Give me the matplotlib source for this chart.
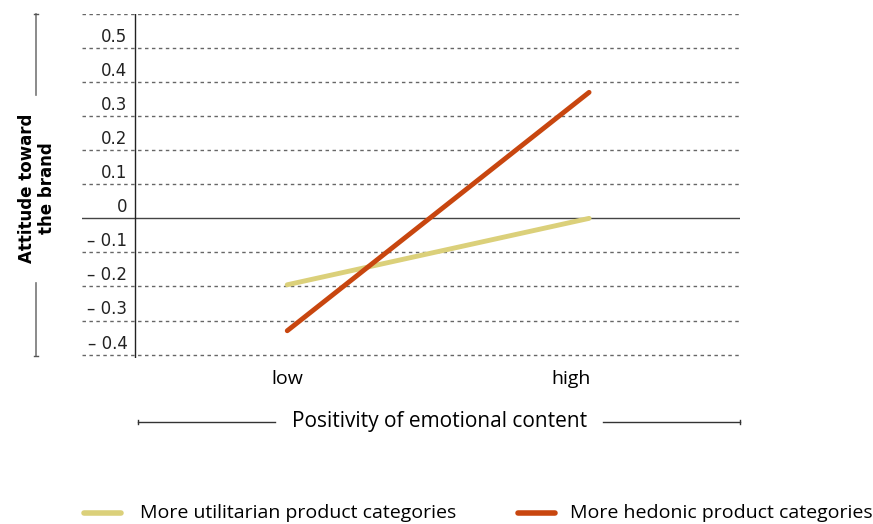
import matplotlib
matplotlib.use('Agg')
from matplotlib import pyplot as plt
from matplotlib.lines import Line2D

levels = ['low', 'high']
utilitarian = [-0.195, 0.0]
hedonic = [-0.33, 0.37]
yticks = [0.5, 0.4, 0.3, 0.2, 0.1, 0.0, -0.1, -0.2, -0.3, -0.4]
ytick_labels = ['0.5', '0.4', '0.3', '0.2', '0.1', '0', '\u2013 0.1', '\u2013 0.2', '\u2013 0.3', '\u2013 0.4']
grid_lines = [0.6, 0.5, 0.4, 0.3, 0.2, 0.1, -0.1, -0.2, -0.3, -0.4]

util_color = '#DBD07A'
hed_color = '#C8460F'


def main():
    W, H = 873, 524
    fig = plt.figure(figsize=[W / 100, H / 100], dpi=100)
    x0, x1, y0, y1 = 82, 740, 14, 358
    ax = fig.add_axes([x0 / W, 1 - y1 / H, (x1 - x0) / W, (y1 - y0) / H])
    ax.set_xlim(-0.68, 1.5)
    ax.set_ylim(-0.41, 0.6)
    for s in ax.spines.values():
        s.set_visible(False)

    for g in grid_lines:
        ax.axhline(g, color='#666666', lw=1, ls=(0, (2.5, 2.5)), zorder=1)
    ax.axhline(0, color='#444444', lw=1, zorder=1)
    ax.axvline(-0.503, color='#222222', lw=1, zorder=1)

    ax.plot([0, 1], utilitarian, color=util_color, lw=3.5, solid_capstyle='round', zorder=3)
    ax.plot([0, 1], hedonic, color=hed_color, lw=3.5, solid_capstyle='round', zorder=4)

    ax.set_yticks([])
    for v, lab in zip(yticks, ytick_labels):
        ax.text(0.069, v + 0.006, lab, transform=ax.get_yaxis_transform(),
                ha='right', va='bottom', fontsize=12, color='#222222',
                family='DejaVu Sans')

    ax.set_xticks([0, 0.94], levels)
    ax.tick_params(axis='x', length=0, pad=9, labelsize=14)
    for t in ax.get_xticklabels():
        t.set_family('Open Sans')

    # x axis title with side rules
    ty = 1 - 422 / H
    fig.text(440 / W, ty, 'Positivity of emotional content', ha='center', va='center',
             fontsize=15, family='Open Sans', fontweight='medium', color='black')
    for a, b in [(138, 275), (603, 740)]:
        fig.add_artist(Line2D([a / W, b / W], [ty, ty], color='#333333', lw=1))
    for xx in [138, 740]:
        fig.add_artist(Line2D([xx / W] * 2, [ty + 2 / H, ty - 2 / H], color='#333333', lw=1))

    # y axis title with side rules
    fig.text(37 / W, 1 - 188 / H, 'Attitude toward\nthe brand', ha='center', va='center',
             rotation=90, fontsize=12, fontweight='bold', family='DejaVu Sans',
             linespacing=1.1, color='black')
    for a, b in [(14, 95), (283, 356)]:
        fig.add_artist(Line2D([36 / W] * 2, [1 - a / H, 1 - b / H], color='#777777', lw=1.2))
    for yy in [14, 356]:
        fig.add_artist(Line2D([34 / W, 38 / W], [1 - yy / H] * 2, color='#555555', lw=1))

    # legend
    ly = 1 - 513 / H
    fig.add_artist(Line2D([84 / W, 121 / W], [ly, ly], color=util_color, lw=4, solid_capstyle='round'))
    fig.text(140 / W, ly, 'More utilitarian product categories', ha='left', va='center',
             fontsize=14, family='Open Sans')
    fig.add_artist(Line2D([518 / W, 555 / W], [ly, ly], color=hed_color, lw=4, solid_capstyle='round'))
    fig.text(570 / W, ly, 'More hedonic product categories', ha='left', va='center',
             fontsize=14, family='Open Sans')

    fig.savefig('out.png', dpi=100)


if __name__ == '__main__':
    main()
